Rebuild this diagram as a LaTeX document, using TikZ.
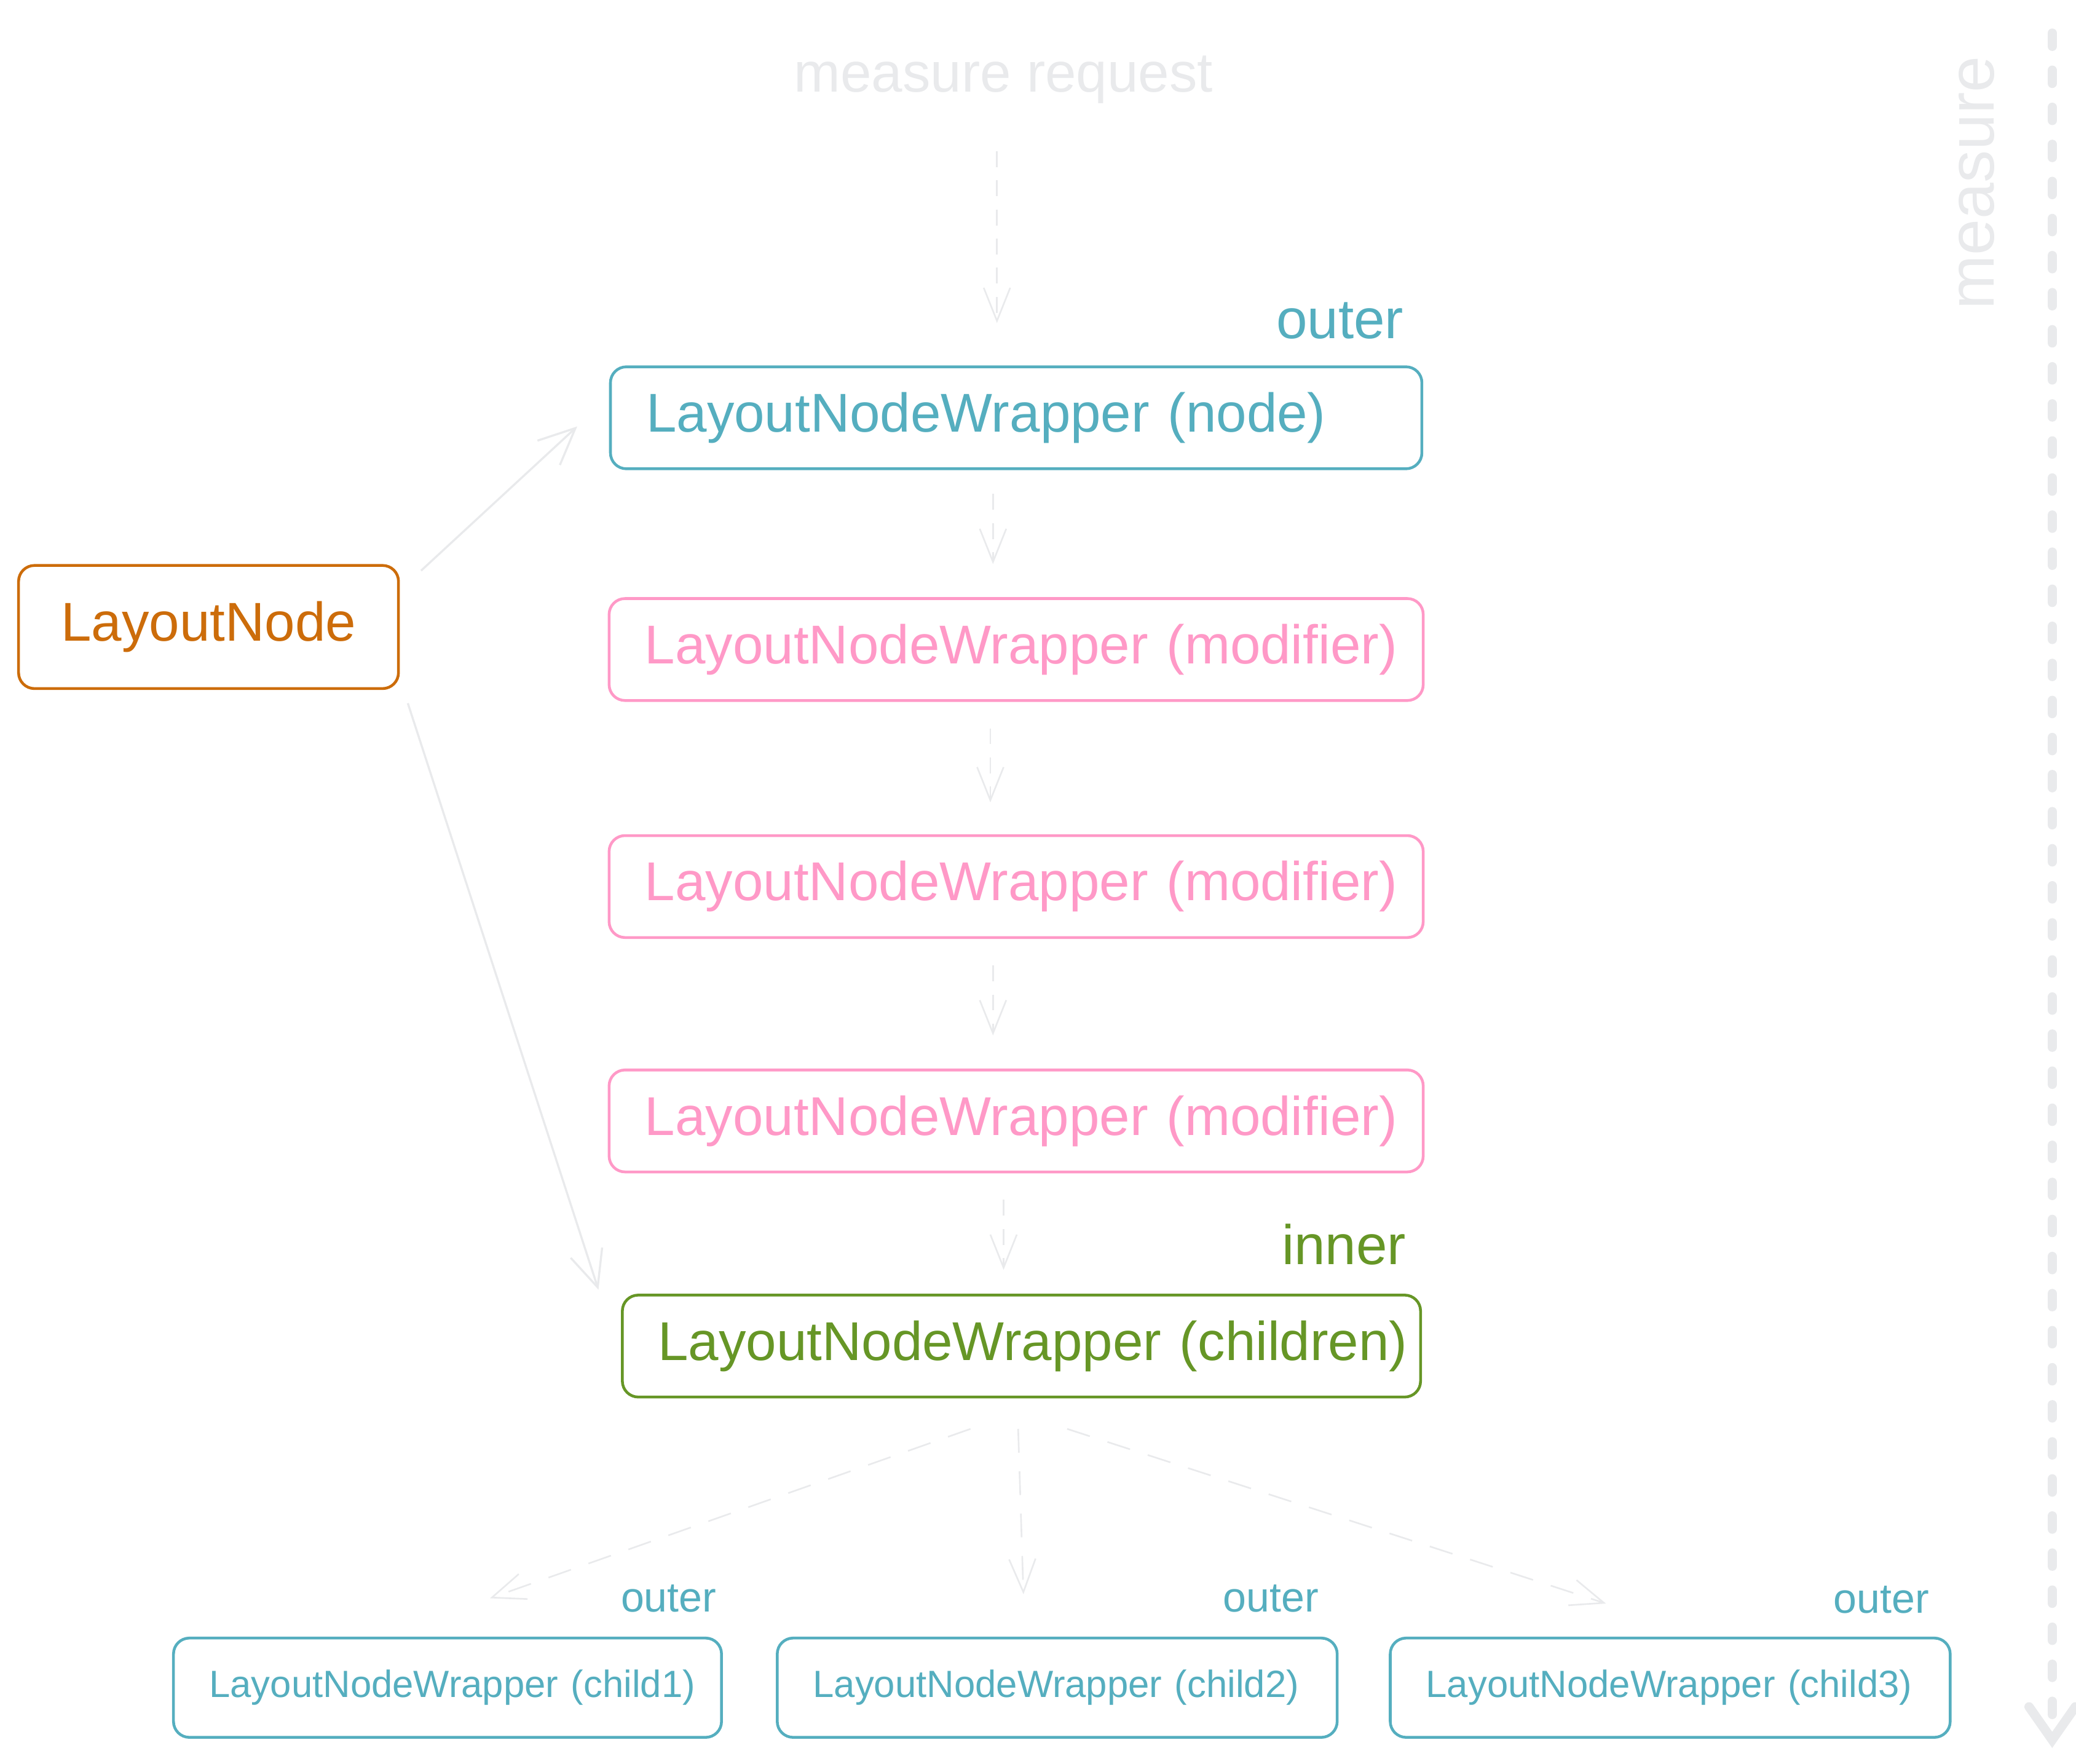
\documentclass[tikz,border=0pt]{standalone}
\usepackage{fontspec}
\setmainfont{Liberation Sans}
\usetikzlibrary{arrows.meta}

\definecolor{outercol}{RGB}{85,174,191}
\definecolor{modcol}{RGB}{255,153,199}
\definecolor{innercol}{RGB}{102,150,38}
\definecolor{nodecol}{RGB}{204,108,10}
\definecolor{faintcol}{RGB}{233,234,236}

\begin{document}
\begin{tikzpicture}[x=0.02cm, y=-0.02cm,
  box/.style={draw, line width=1.2pt, rounded corners=0.24cm, minimum height=1.54cm,
    inner xsep=0.54cm, align=left, font=\fontsize{23.5}{28}\selectfont},
  smallbox/.style={box, minimum height=1.5cm, inner xsep=0.54cm, font=\fontsize{16.3}{20}\selectfont},
  tag/.style={font=\fontsize{24}{28}\selectfont},
  smalltag/.style={font=\fontsize{18}{22}\selectfont},
  flow/.style={faintcol, line width=0.7pt, dash pattern=on 0.24cm off 0.2cm,
    -{Straight Barb[length=0.5cm,width=0.4cm]}},
  link/.style={faintcol, line width=0.9pt, -{Straight Barb[length=0.55cm,width=0.5cm]}}]
\useasboundingbox (0,0) rectangle (1568,1332);

% Request on top
\node[tag, text=faintcol] (req) at (758,60) {measure request};

% Wrapper chain
\node[box, draw=outercol, text=outercol, text width=11.18cm] (wnode) at (767.5,315.5) {\mbox{LayoutNodeWrapper (node)}};
\node[box, draw=modcol, text=modcol, text width=11.22cm] (wmod1) at (767.5,490.5) {\mbox{LayoutNodeWrapper (modifier)}};
\node[box, draw=modcol, text=modcol, text width=11.22cm] (wmod2) at (767.5,669.5) {\mbox{LayoutNodeWrapper (modifier)}};
\node[box, draw=modcol, text=modcol, text width=11.22cm] (wmod3) at (767.5,846.5) {\mbox{LayoutNodeWrapper (modifier)}};
\node[box, draw=innercol, text=innercol, text width=10.98cm] (wchildren) at (771.5,1016.5) {\mbox{LayoutNodeWrapper (children)}};
\node[tag, text=outercol] (outertop) at (1012,242) {outer};
\node[tag, text=innercol] (innertag) at (1015,940) {inner};

% The layout node
\node[box, draw=nodecol, text=nodecol, minimum width=5.74cm, minimum height=1.86cm, align=center] (lnode) at (157.5,473.5) {LayoutNode};

% Children
\node[smallbox, draw=outercol, text=outercol, text width=7.2cm] (wchild1) at (338,1274.5) {\mbox{LayoutNodeWrapper (child1)}};
\node[smallbox, draw=outercol, text=outercol, text width=7.38cm] (wchild2) at (798.5,1274.5) {\mbox{LayoutNodeWrapper (child2)}};
\node[smallbox, draw=outercol, text=outercol, text width=7.38cm] (wchild3) at (1261.5,1274.5) {\mbox{LayoutNodeWrapper (child3)}};
\node[smalltag, text=outercol] (outer1) at (505,1207) {outer};
\node[smalltag, text=outercol] (outer2) at (960,1207) {outer};
\node[smalltag, text=outercol] (outer3) at (1421,1208) {outer};

% Measure direction
\node[tag, text=faintcol, rotate=90, font=\fontsize{28}{32}\selectfont] (measure) at (1493,138) {measure};
\coordinate (mtop) at (1550,25);
\coordinate (mbot) at (1550,1320);
\draw[faintcol, line width=0.14cm, line cap=round, dash pattern=on 0.2cm off 0.36cm,
  -{Straight Barb[length=0.5cm,width=0.7cm,line cap=round]}] (mtop) -- (mbot);

% Connectors
\draw[flow] ([shift={(-5,30)}]req.south) -- ([shift={(-14.5,-32)}]wnode.north);
\draw[flow] ([shift={(-17.5,18)}]wnode.south) -- ([shift={(-17.5,-25)}]wmod1.north);
\draw[flow] ([shift={(-19.5,20)}]wmod1.south) -- ([shift={(-19.5,-24)}]wmod2.north);
\draw[flow] ([shift={(-17.5,20)}]wmod2.south) -- ([shift={(-17.5,-25)}]wmod3.north);
\draw[flow] ([shift={(-9.5,20)}]wmod3.south) -- ([shift={(-13.5,-18)}]wchildren.north);
\draw[link] ([shift={(16,5)}]lnode.north east) -- ([shift={(-24,6.5)}]wnode.west);
\draw[link] ([shift={(6,10)}]lnode.south east) -- ([shift={(-17,-3)}]wchildren.north west);
\draw[flow, dash pattern=on 0.36cm off 0.28cm] ([shift={(-38.5,23)}]wchildren.south) -- ([shift={(32,-29)}]wchild1.north);
\draw[flow, dash pattern=on 0.36cm off 0.28cm] ([shift={(-2.5,23)}]wchildren.south) -- ([shift={(-25.5,-32)}]wchild2.north);
\draw[flow, dash pattern=on 0.36cm off 0.28cm] ([shift={(34.5,23)}]wchildren.south) -- ([shift={(-48.5,-25)}]wchild3.north);
\end{tikzpicture}
\end{document}
